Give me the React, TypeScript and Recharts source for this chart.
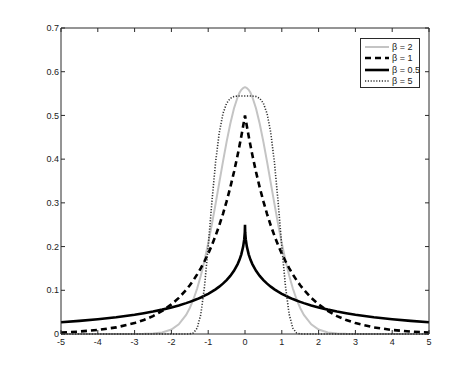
import React from 'react'
import { LineChart, Line, XAxis, YAxis } from 'recharts'

// x positions of the samples (denser near the cusp at 0)
const xs = [
  -5, -4.5, -4, -3.5, -3, -2.75, -2.5, -2.25, -2, -1.8, -1.6, -1.5, -1.4, -1.3, -1.2, -1.1, -1, -0.9, -0.8,
  -0.7, -0.6, -0.5, -0.4, -0.3, -0.2, -0.15, -0.1, -0.05, -0.02, -0.005, 0, 0.005, 0.02, 0.05, 0.1, 0.15,
  0.2, 0.3, 0.4, 0.5, 0.6, 0.7, 0.8, 0.9, 1, 1.1, 1.2, 1.3, 1.4, 1.5, 1.6, 1.8, 2, 2.25, 2.5, 2.75, 3, 3.5,
  4, 4.5, 5,
]

const beta2 = [
  0, 0, 0, 0, 0.0001, 0.0003, 0.0011, 0.0036, 0.0103, 0.0221, 0.0436, 0.0595, 0.0795, 0.1041, 0.1337,
  0.1682, 0.2076, 0.251, 0.2975, 0.3456, 0.3936, 0.4394, 0.4808, 0.5157, 0.5421, 0.5517, 0.5586, 0.5628,
  0.564, 0.5642, 0.5642, 0.5642, 0.564, 0.5628, 0.5586, 0.5517, 0.5421, 0.5157, 0.4808, 0.4394, 0.3936,
  0.3456, 0.2975, 0.251, 0.2076, 0.1682, 0.1337, 0.1041, 0.0795, 0.0595, 0.0436, 0.0221, 0.0103, 0.0036,
  0.0011, 0.0003, 0.0001, 0, 0, 0, 0,
]

const beta1 = [
  0.0034, 0.0056, 0.0092, 0.0151, 0.0249, 0.032, 0.041, 0.0527, 0.0677, 0.0826, 0.1009, 0.1116, 0.1233,
  0.1363, 0.1506, 0.1664, 0.1839, 0.2033, 0.2247, 0.2483, 0.2744, 0.3033, 0.3352, 0.3704, 0.4094, 0.4304,
  0.4524, 0.4756, 0.4901, 0.4975, 0.5, 0.4975, 0.4901, 0.4756, 0.4524, 0.4304, 0.4094, 0.3704, 0.3352,
  0.3033, 0.2744, 0.2483, 0.2247, 0.2033, 0.1839, 0.1664, 0.1506, 0.1363, 0.1233, 0.1116, 0.1009, 0.0826,
  0.0677, 0.0527, 0.041, 0.032, 0.0249, 0.0151, 0.0092, 0.0056, 0.0034,
]

const beta05 = [
  0.0267, 0.03, 0.0338, 0.0385, 0.0442, 0.0476, 0.0514, 0.0558, 0.0608, 0.0654, 0.0706, 0.0735, 0.0766,
  0.0799, 0.0836, 0.0876, 0.092, 0.0968, 0.1022, 0.1083, 0.1152, 0.1233, 0.1328, 0.1446, 0.1599, 0.1697,
  0.1822, 0.1999, 0.217, 0.2329, 0.25, 0.2329, 0.217, 0.1999, 0.1822, 0.1697, 0.1599, 0.1446, 0.1328,
  0.1233, 0.1152, 0.1083, 0.1022, 0.0968, 0.092, 0.0876, 0.0836, 0.0799, 0.0766, 0.0735, 0.0706, 0.0654,
  0.0608, 0.0558, 0.0514, 0.0476, 0.0442, 0.0385, 0.0338, 0.03, 0.0267,
]

const beta5 = [
  0, 0, 0, 0, 0, 0, 0, 0, 0, 0, 0, 0.0003, 0.0025, 0.0133, 0.0452, 0.1088, 0.2003, 0.3018, 0.3923, 0.4604,
  0.5039, 0.5278, 0.5391, 0.5433, 0.5444, 0.5446, 0.5446, 0.5446, 0.5446, 0.5446, 0.5446, 0.5446, 0.5446,
  0.5446, 0.5446, 0.5446, 0.5444, 0.5433, 0.5391, 0.5278, 0.5039, 0.4604, 0.3923, 0.3018, 0.2003, 0.1088,
  0.0452, 0.0133, 0.0025, 0.0003, 0, 0, 0, 0, 0, 0, 0, 0, 0, 0, 0,
]

const xTicks = [-5, -4, -3, -2, -1, 0, 1, 2, 3, 4, 5]
const yTicks = [0, 0.1, 0.2, 0.3, 0.4, 0.5, 0.6, 0.7]

// the β = 0.5 curve is bound to the top/right axes (same domains) so the box axes render
const series = [
  { key: 'b2', label: 'β = 2', color: '#c4c4c4', width: 2, dash: undefined, box: false },
  { key: 'b1', label: 'β = 1', color: '#000', width: 2.6, dash: '6 4', box: false },
  { key: 'b05', label: 'β = 0.5', color: '#000', width: 2.6, dash: undefined, box: true },
  { key: 'b5', label: 'β = 5', color: '#333', width: 1.6, dash: '1.2 1.6', box: false },
]

const data = xs.map((x, i) => ({
  x,
  b2: beta2[i],
  b1: beta1[i],
  b05: beta05[i],
  b5: beta5[i],
}))

const W = 458
const H = 355
const FONT = "'Liberation Sans', Arial, sans-serif"
const AXIS = '#2a2a2a'
const tickStyle = { fontSize: 9, fill: '#222', fontFamily: FONT }

const LegendBox: React.FC = () => (
  <div
    style={{
      position: 'absolute',
      left: 352,
      top: 30,
      width: 58,
      height: 48,
      border: `1px solid ${AXIS}`,
      background: '#fff',
      fontFamily: FONT,
      fontSize: 9,
      color: '#222',
      boxSizing: 'content-box',
    }}
  >
    {series.map((s, i) => (
      <div
        key={s.key}
        style={{ position: 'absolute', left: 4, top: 2 + i * 11.5, height: 11, display: 'flex', alignItems: 'center' }}
      >
        <svg width={25} height={8} style={{ display: 'block' }}>
          <line x1={0} y1={4} x2={24} y2={4} stroke={s.color} strokeWidth={s.width} strokeDasharray={s.dash} />
        </svg>
        <span style={{ marginLeft: 2, whiteSpace: 'nowrap' }}>{s.label}</span>
      </div>
    ))}
  </div>
)

export default function App() {
  return (
    <div style={{ position: 'relative', width: W, height: H }}>
      <LineChart width={W} height={H} data={data} margin={{ top: 19, right: 36, left: 0, bottom: 0 }}>
        <XAxis
          dataKey="x"
          type="number"
          domain={[-5, 5]}
          ticks={xTicks}
          height={29}
          tickSize={-4}
          tickMargin={9}
          tick={tickStyle}
          stroke={AXIS}
          interval={0}
        />
        <XAxis
          xAxisId="top"
          orientation="top"
          dataKey="x"
          type="number"
          domain={[-5, 5]}
          ticks={xTicks}
          height={1}
          tickSize={-4}
          tickFormatter={() => ''}
          stroke={AXIS}
          interval={0}
        />
        <YAxis
          type="number"
          domain={[0, 0.7]}
          ticks={yTicks}
          width={53}
          tickSize={-4}
          tickMargin={6}
          tick={tickStyle}
          stroke={AXIS}
          interval={0}
        />
        <YAxis
          yAxisId="right"
          orientation="right"
          type="number"
          domain={[0, 0.7]}
          ticks={yTicks}
          width={1}
          tickSize={-4}
          tickFormatter={() => ''}
          stroke={AXIS}
          interval={0}
        />
        {series.map((s) => (
          <Line
            key={s.key}
            dataKey={s.key}
            xAxisId={s.box ? 'top' : 0}
            yAxisId={s.box ? 'right' : 0}
            type="linear"
            stroke={s.color}
            strokeWidth={s.width}
            strokeDasharray={s.dash}
            dot={false}
            activeDot={false}
            isAnimationActive={false}
          />
        ))}
      </LineChart>
      <LegendBox />
    </div>
  )
}
